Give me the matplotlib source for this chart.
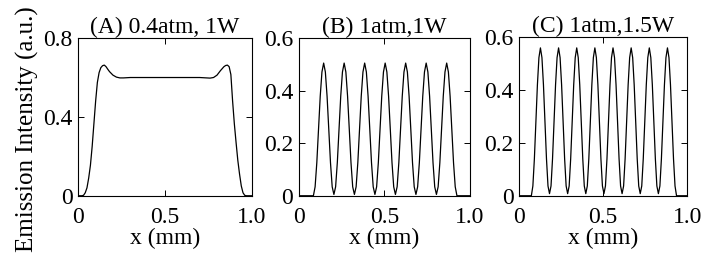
import matplotlib
matplotlib.use("Agg")
import matplotlib.pyplot as plt

plt.rcParams['font.family'] = ['Liberation Serif', 'DejaVu Serif']
plt.rcParams['font.size'] = 17

# panel A: 0.4 atm, 1 W
xa = [0.00, 0.02, 0.03, 0.04, 0.05, 0.06, 0.07, 0.08, 0.09, 0.10, 0.11, 0.12,
      0.13, 0.14, 0.15, 0.16, 0.17, 0.18, 0.20, 0.22, 0.24, 0.26, 0.30, 0.40,
      0.50, 0.60, 0.70, 0.74, 0.76, 0.78, 0.80, 0.82, 0.84, 0.85, 0.86, 0.87,
      0.88, 0.89, 0.90, 0.91, 0.92, 0.93, 0.94, 0.95, 0.96, 0.97, 1.00]
ya = [0.000, 0.000, 0.002, 0.015, 0.040, 0.090, 0.155, 0.250, 0.365, 0.480, 0.575, 0.625,
      0.650, 0.660, 0.663, 0.655, 0.642, 0.630, 0.612, 0.602, 0.598, 0.598, 0.600, 0.600,
      0.600, 0.600, 0.600, 0.598, 0.597, 0.600, 0.612, 0.635, 0.655, 0.661, 0.663, 0.655,
      0.615, 0.480, 0.365, 0.270, 0.180, 0.110, 0.050, 0.015, 0.002, 0.000, 0.000]

# panel B: 1 atm, 1 W
xb = [0.000,
      0.085, 0.095, 0.105, 0.115, 0.125, 0.135, 0.145, 0.155, 0.165, 0.175, 0.185, 0.195,
      0.205, 0.215, 0.225, 0.235, 0.245, 0.255, 0.265, 0.275, 0.285, 0.295, 0.305, 0.315,
      0.325, 0.335, 0.345, 0.355, 0.365, 0.375, 0.385, 0.395, 0.405, 0.415, 0.425, 0.435,
      0.445, 0.455, 0.465, 0.475, 0.485, 0.495, 0.505, 0.515, 0.525, 0.535, 0.545, 0.555,
      0.565, 0.575, 0.585, 0.595, 0.605, 0.615, 0.625, 0.635, 0.645, 0.655, 0.665, 0.675,
      0.685, 0.695, 0.705, 0.715, 0.725, 0.735, 0.745, 0.755, 0.765, 0.775, 0.785, 0.795,
      0.805, 0.815, 0.825, 0.835, 0.845, 0.855, 0.865, 0.875, 0.885, 0.895, 0.905, 0.915,
      0.925, 1.000]
yb = [0.000,
      0.000, 0.034, 0.126, 0.253, 0.379, 0.471, 0.505, 0.471, 0.379, 0.253, 0.126, 0.034,
      0.005, 0.034, 0.126, 0.253, 0.379, 0.471, 0.505, 0.471, 0.379, 0.253, 0.126, 0.034,
      0.005, 0.034, 0.126, 0.253, 0.379, 0.471, 0.505, 0.471, 0.379, 0.253, 0.126, 0.034,
      0.005, 0.034, 0.126, 0.253, 0.379, 0.471, 0.505, 0.471, 0.379, 0.253, 0.126, 0.034,
      0.005, 0.034, 0.126, 0.253, 0.379, 0.471, 0.505, 0.471, 0.379, 0.253, 0.126, 0.034,
      0.005, 0.034, 0.126, 0.253, 0.379, 0.471, 0.505, 0.471, 0.379, 0.253, 0.126, 0.034,
      0.005, 0.034, 0.126, 0.253, 0.379, 0.471, 0.505, 0.471, 0.379, 0.253, 0.126, 0.034,
      0.000, 0.000]

# panel C: 1 atm, 1.5 W
xc = [0.000,
      0.073, 0.082, 0.091, 0.100, 0.109, 0.118, 0.127, 0.136, 0.145, 0.154, 0.163, 0.172,
      0.181, 0.190, 0.199, 0.208, 0.217, 0.226, 0.235, 0.244, 0.253, 0.262, 0.271, 0.280,
      0.289, 0.298, 0.307, 0.316, 0.325, 0.334, 0.343, 0.352, 0.361, 0.370, 0.379, 0.388,
      0.397, 0.406, 0.415, 0.424, 0.433, 0.442, 0.451, 0.460, 0.469, 0.478, 0.487, 0.496,
      0.505, 0.514, 0.523, 0.532, 0.541, 0.550, 0.559, 0.568, 0.577, 0.586, 0.595, 0.604,
      0.613, 0.622, 0.631, 0.640, 0.649, 0.658, 0.667, 0.676, 0.685, 0.694, 0.703, 0.712,
      0.721, 0.730, 0.739, 0.748, 0.757, 0.766, 0.775, 0.784, 0.793, 0.802, 0.811, 0.820,
      0.829, 0.838, 0.847, 0.856, 0.865, 0.874, 0.883, 0.892, 0.901, 0.910, 0.919, 0.928,
      0.937, 1.000]
yc = [0.000,
      0.000, 0.037, 0.140, 0.280, 0.420, 0.523, 0.560, 0.523, 0.420, 0.280, 0.140, 0.037,
      0.008, 0.037, 0.140, 0.280, 0.420, 0.523, 0.560, 0.523, 0.420, 0.280, 0.140, 0.037,
      0.008, 0.037, 0.140, 0.280, 0.420, 0.523, 0.560, 0.523, 0.420, 0.280, 0.140, 0.037,
      0.008, 0.037, 0.140, 0.280, 0.420, 0.523, 0.560, 0.523, 0.420, 0.280, 0.140, 0.037,
      0.008, 0.037, 0.140, 0.280, 0.420, 0.523, 0.560, 0.523, 0.420, 0.280, 0.140, 0.037,
      0.008, 0.037, 0.140, 0.280, 0.420, 0.523, 0.560, 0.523, 0.420, 0.280, 0.140, 0.037,
      0.008, 0.037, 0.140, 0.280, 0.420, 0.523, 0.560, 0.523, 0.420, 0.280, 0.140, 0.037,
      0.008, 0.037, 0.140, 0.280, 0.420, 0.523, 0.560, 0.523, 0.420, 0.280, 0.140, 0.037,
      0.000, 0.000]

titles = ["(A) 0.4atm, 1W", "(B) 1atm,1W", "(C) 1atm,1.5W"]
xticks = [0, 0.5, 1.0]
xticklabels = ["0", "0.5", "1.0"]
yticks_a = [0, 0.4, 0.8]
yticklabels_a = ["0", "0.4", "0.8"]
yticks_bc = [0, 0.2, 0.4, 0.6]
yticklabels_bc = ["0", "0.2", "0.4", "0.6"]

fig = plt.figure(figsize=(7.15, 2.61), dpi=100)
boxes = [[0.1095, 0.25, 0.2425, 0.604],
         [0.418, 0.25, 0.239, 0.604],
         [0.726, 0.25, 0.235, 0.607]]
series = [(xa, ya, 0.8, yticks_a, yticklabels_a),
          (xb, yb, 0.6, yticks_bc, yticklabels_bc),
          (xc, yc, 0.6, yticks_bc, yticklabels_bc)]

for i in range(3):
    ax = fig.add_axes(boxes[i])
    x, y, ytop, yt, ytl = series[i]
    ax.plot(x, y, color='black', linewidth=0.9)
    ax.set_xlim(0, 1)
    ax.set_ylim(0, ytop)
    ax.set_xticks(xticks)
    ax.set_xticklabels(xticklabels)
    ax.set_yticks(yt)
    ax.set_yticklabels(ytl)
    ax.tick_params(direction='in', top=True, right=True, length=4, width=0.7)
    ax.tick_params(axis='x', pad=8)
    ax.tick_params(axis='y', pad=4)
    for s in ax.spines.values():
        s.set_linewidth(0.8)
    ax.set_title(titles[i], fontsize=17, pad=4)
    ax.set_xlabel('x (mm)')
    ax.xaxis.label.set_va('center')
    ax.xaxis.set_label_coords(0.5, -0.27)
    if i == 0:
        ax.set_ylabel('Emission Intensity (a.u.)', fontsize=18)
        ax.yaxis.set_label_coords(-0.225, 0.42)

fig.savefig('out.png', dpi=100)
